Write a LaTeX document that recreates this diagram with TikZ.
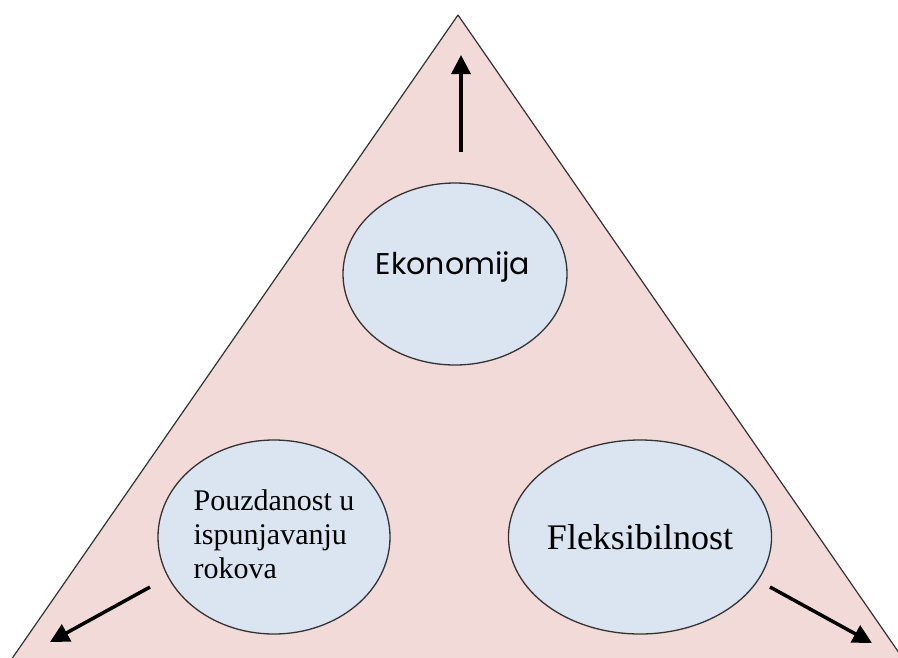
\documentclass[tikz,border=0pt]{standalone}
\usepackage{fontspec}
\setmainfont{Liberation Serif}
\newfontfamily\labelsans{Poppins}
\usetikzlibrary{arrows.meta,shapes.geometric}
\definecolor{wedgepink}{RGB}{242,218,217}
\definecolor{bubbleblue}{RGB}{219,229,241}
\begin{document}
\begin{tikzpicture}[x=1pt,y=-1pt,
  bubble/.style={shape=ellipse, draw=black!80, line width=1.3pt, fill=bubbleblue,
    inner sep=0pt},
  pusharrow/.style={line width=3.5pt, black,
    -{Triangle[length=19pt,width=19pt]}}]
  \useasboundingbox (0,0) rectangle (898,657);
  \clip (0,0) rectangle (898,657);
  \fill[white] (0,0) rectangle (898,657);

  % outer triangle
  \coordinate (apex) at (458,15);
  \coordinate (baseL) at (11,660);
  \coordinate (baseR) at (904,660);
  \filldraw[fill=wedgepink, draw=black!80, line width=1.2pt, line join=round]
    (apex) -- (baseL) -- (baseR) -- cycle;

  % the three circles
  \node[bubble, minimum width=224pt, minimum height=182pt] (eko) at (455,274) {};
  \node[font=\labelsans\fontsize{30}{34}\selectfont, text=black] (ekotxt) at (453,267) {Ekonomija};

  \node[bubble, minimum width=232pt, minimum height=194pt] (pouz) at (274,537)
    {\fontsize{30}{35}\selectfont\begin{tabular}{@{}l@{}}Pouzdanost u\\[-1pt] ispunjavanju\\[-1pt] rokova\end{tabular}};

  \node[bubble, minimum width=226pt, minimum height=194pt] (fleks) at (640,537)
    {\fontsize{36}{40}\selectfont Fleksibilnost};

  % arrows pushing outward
  \coordinate (upS) at (461,152);
  \coordinate (upE) at (461,55);
  \coordinate (lS) at (150,587);
  \coordinate (lE) at (50,642);
  \coordinate (rS) at (770,587);
  \coordinate (rE) at (872,643);
  \draw[pusharrow] (upS) -- (upE);
  \draw[pusharrow] (lS) -- (lE);
  \draw[pusharrow] (rS) -- (rE);
\end{tikzpicture}
\end{document}
